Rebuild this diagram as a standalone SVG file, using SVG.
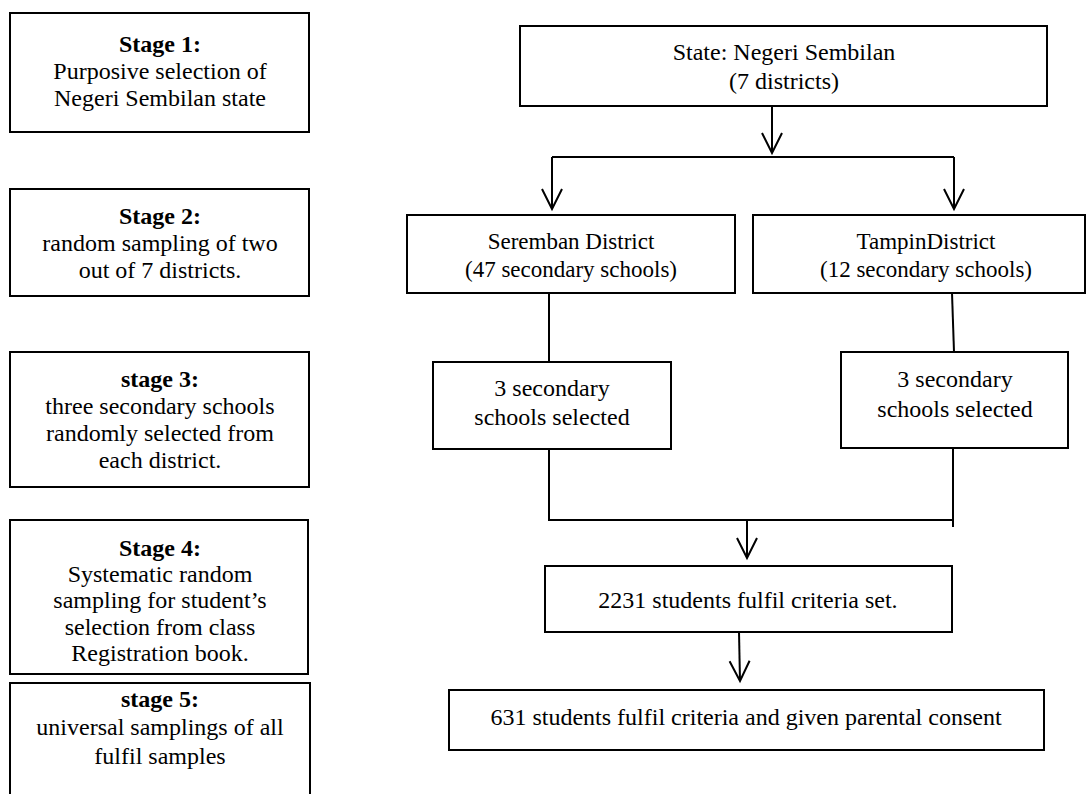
<svg xmlns="http://www.w3.org/2000/svg" width="1088" height="794" viewBox="0 0 1088 794">
<style>
.box{fill:#fff;stroke:#000;stroke-width:2}
.t{font-family:"Liberation Serif","Times New Roman",serif;font-size:24px;fill:#000;text-anchor:middle}
.b{font-weight:bold}
.c{fill:none;stroke:#000;stroke-width:2}
</style>
<defs>
<marker id="ah" viewBox="0 0 22 22" refX="20" refY="11" markerWidth="22" markerHeight="22" markerUnits="userSpaceOnUse" orient="auto" overflow="visible">
<path d="M0,1 L20,11 L0,21" fill="none" stroke="#000" stroke-width="2"/>
</marker>
</defs>
<rect width="1088" height="794" fill="#fff"/>

<g id="stage1">
<rect class="box" x="10" y="13" width="299" height="119"/>
<text class="t b" x="160" y="52">Stage 1:</text>
<text class="t" x="160" y="79">Purposive selection of</text>
<text class="t" x="160" y="106">Negeri Sembilan state</text>
</g>
<g id="stage2">
<rect class="box" x="10" y="189" width="299" height="107"/>
<text class="t b" x="160" y="224">Stage 2:</text>
<text class="t" x="160" y="251">random sampling of two</text>
<text class="t" x="160" y="278">out of 7 districts.</text>
</g>
<g id="stage3">
<rect class="box" x="10" y="352" width="299" height="135"/>
<text class="t b" x="160" y="387">stage 3:</text>
<text class="t" x="160" y="414">three secondary schools</text>
<text class="t" x="160" y="441">randomly selected from</text>
<text class="t" x="160" y="468">each district.</text>
</g>
<g id="stage4">
<rect class="box" x="10" y="520" width="298" height="154"/>
<text class="t b" x="160" y="556">Stage 4:</text>
<text class="t" x="160" y="582">Systematic random</text>
<text class="t" x="160" y="608">sampling for student’s</text>
<text class="t" x="160" y="635">selection from class</text>
<text class="t" x="160" y="661">Registration book.</text>
</g>
<g id="stage5">
<rect class="box" x="10" y="683" width="300" height="130"/>
<text class="t b" x="160" y="707">stage 5:</text>
<text class="t" x="160" y="735">universal samplings of all</text>
<text class="t" x="160" y="764">fulfil samples</text>
</g>

<g id="state">
<rect class="box" x="520" y="26" width="527" height="80"/>
<text class="t" x="784" y="60">State: Negeri Sembilan</text>
<text class="t" x="784" y="89">(7 districts)</text>
</g>
<g id="seremban">
<rect class="box" x="407" y="215" width="328" height="78"/>
<text class="t" x="571" y="249" style="font-size:23px">Seremban District</text>
<text class="t" x="571" y="277" style="font-size:23px">(47 secondary schools)</text>
</g>
<g id="tampin">
<rect class="box" x="753" y="215" width="332" height="78"/>
<text class="t" x="926" y="249" style="font-size:23px">TampinDistrict</text>
<text class="t" x="926" y="277" style="font-size:23px">(12 secondary schools)</text>
</g>
<g id="schools-left">
<rect class="box" x="433" y="362" width="238" height="87"/>
<text class="t" x="552" y="396">3 secondary</text>
<text class="t" x="552" y="425">schools selected</text>
</g>
<g id="schools-right">
<rect class="box" x="841" y="352" width="227" height="96"/>
<text class="t" x="955" y="387">3 secondary</text>
<text class="t" x="955" y="417">schools selected</text>
</g>
<g id="students">
<rect class="box" x="545" y="566" width="407" height="66"/>
<text class="t" x="748" y="608">2231 students fulfil criteria set.</text>
</g>
<g id="consent">
<rect class="box" x="449" y="690" width="595" height="60"/>
<text class="t" x="746" y="725">631 students fulfil criteria and given parental consent</text>
</g>

<g id="connectors">
<line class="c" x1="772" y1="106" x2="772" y2="153" marker-end="url(#ah)"/>
<line class="c" x1="552" y1="157" x2="954" y2="157"/>
<line class="c" x1="552" y1="157" x2="552" y2="209" marker-end="url(#ah)"/>
<line class="c" x1="954" y1="157" x2="954" y2="209" marker-end="url(#ah)"/>
<line class="c" x1="549" y1="293" x2="549" y2="362"/>
<line class="c" x1="952" y1="293" x2="954" y2="352"/>
<line class="c" x1="549" y1="449" x2="549" y2="521"/>
<line class="c" x1="953" y1="448" x2="953" y2="527"/>
<line class="c" x1="549" y1="520" x2="953" y2="520"/>
<line class="c" x1="747" y1="520" x2="747" y2="558" marker-end="url(#ah)"/>
<line class="c" x1="739" y1="632" x2="740" y2="681" marker-end="url(#ah)"/>
</g>
</svg>
